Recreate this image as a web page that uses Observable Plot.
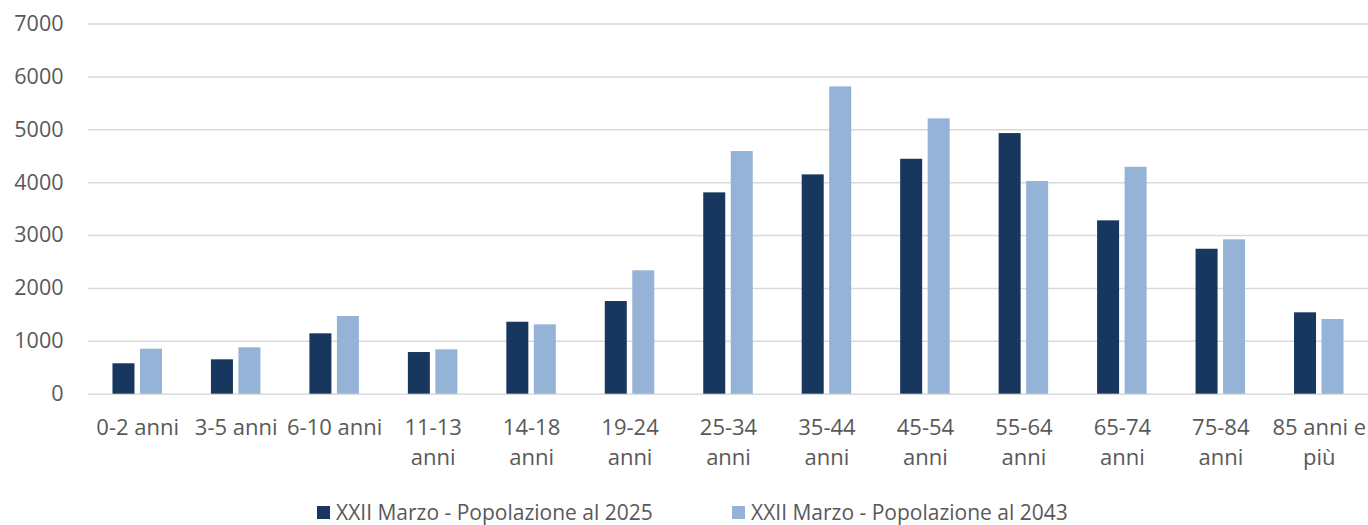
<!DOCTYPE html>
<html><head><meta charset="utf-8">
<script src="https://cdn.jsdelivr.net/npm/d3@7"></script>
<script src="https://cdn.jsdelivr.net/npm/@observablehq/plot@0.6"></script>
<style>
body{margin:0;background:#fff;font-family:"Open Sans",sans-serif;overflow:hidden;}
#legend{display:flex;height:35px;box-sizing:border-box;padding-top:11px;padding-left:317px;color:#595959;font-size:21px;line-height:22px;}
#legend .item{width:415px;display:flex;align-items:center;height:22px;white-space:nowrap;}
#legend .sw{width:13px;height:13px;margin-right:6px;display:inline-block;flex:none;}
</style></head><body><div id="chart"></div><div id="legend"></div>
<script>
const categories = ["0-2 anni","3-5 anni","6-10 anni","11-13 anni","14-18 anni","19-24 anni","25-34 anni","35-44 anni","45-54 anni","55-64 anni","65-74 anni","75-84 anni","85 anni e più"];
const tickLabels = ["0-2 anni","3-5 anni","6-10 anni","11-13\nanni","14-18\nanni","19-24\nanni","25-34\nanni","35-44\nanni","45-54\nanni","55-64\nanni","65-74\nanni","75-84\nanni","85 anni e\npiù"];
const series = ["XXII Marzo - Popolazione al 2025","XXII Marzo - Popolazione al 2043"];
const pop2025 = [575,650,1142,788,1361,1752,3807,4147,4442,4928,3278,2741,1539];
const pop2043 = [851,877,1469,839,1312,2333,4588,5811,5206,4021,4291,2919,1412];
const yTicks = [0,1000,2000,3000,4000,5000,6000,7000];
const colors = ["#17375e","#95b3d7"];

const data = [];
categories.forEach((c,i)=>{
  data.push({cat:c, series:series[0], value:pop2025[i]});
  data.push({cat:c, series:series[1], value:pop2043[i]});
});
const labelOf = new Map(categories.map((c,i)=>[c,tickLabels[i]]));
const font = "'Open Sans', sans-serif";

const chart = Plot.plot({
  width:1368, height:490,
  marginLeft:88, marginRight:0, marginTop:23.5, marginBottom:96.3,
  style:{fontFamily:font, fontSize:"22px", color:"#595959", background:"#fff", overflow:"visible"},
  fx:{domain:categories, padding:0, label:null, round:false},
  x:{domain:series, paddingInner:0.2, paddingOuter:0.89, axis:null, round:false},
  y:{domain:[0,7000], axis:null},
  color:{domain:series, range:colors},
  marks:[
    Plot.ruleY(yTicks,{stroke:"#d9d9d9", strokeWidth:1.5}),
    Plot.barY(data,{fx:"cat", x:"series", y:"value", fill:"series"}),
    Plot.axisY({ticks:yTicks, tickSize:0, tickPadding:25, label:null, fontSize:21.5, fill:"#595959", tickFormat:d=>String(d)}),
    Plot.axisFx({anchor:"bottom", tickSize:0, tickPadding:20, label:null, fontSize:22, fill:"#595959", lineHeight:1.36, tickFormat:d=>labelOf.get(d)})
  ]
});
document.getElementById("chart").appendChild(chart);

const lg = document.getElementById("legend");
series.forEach((s,i)=>{
  const it = document.createElement("div"); it.className="item";
  const sw = document.createElement("span"); sw.className="sw"; sw.style.background=colors[i];
  const tx = document.createElement("span"); tx.textContent=s;
  it.appendChild(sw); it.appendChild(tx); lg.appendChild(it);
});
</script></body></html>
